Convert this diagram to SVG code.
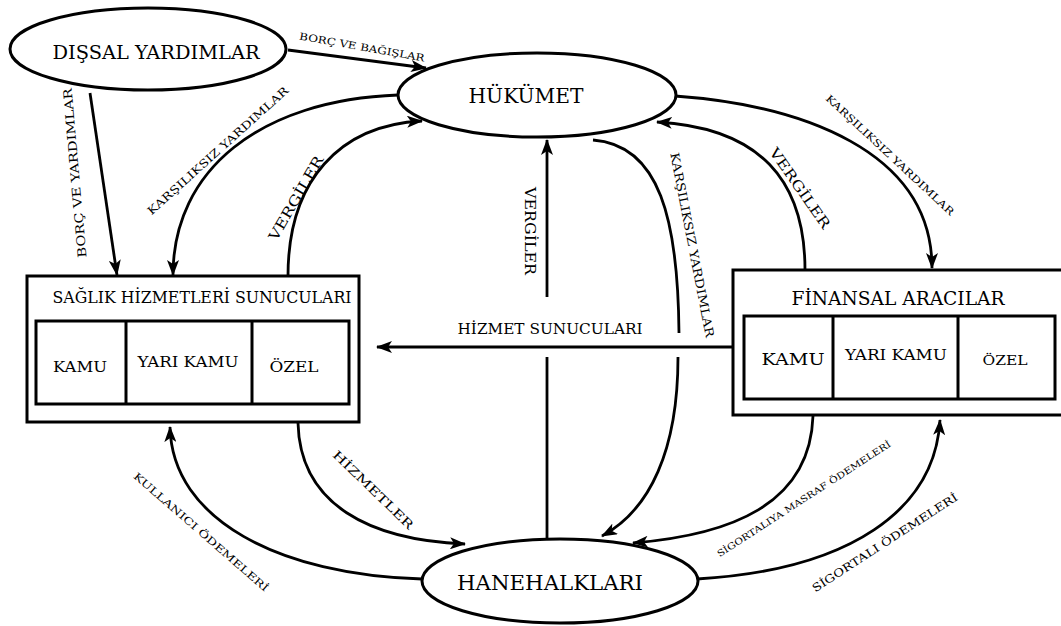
<svg xmlns="http://www.w3.org/2000/svg" width="1061" height="626" viewBox="0 0 1061 626">
<defs>
<marker id="ah" viewBox="0 0 16 12" refX="15" refY="6" markerWidth="16" markerHeight="12" orient="auto" markerUnits="userSpaceOnUse">
<path d="M0,0 L16,6 L0,12 L4,6 z" fill="#000"/>
</marker>
<style>
text{font-family:"DejaVu Serif","Liberation Serif",Tinos,"Noto Serif",serif;fill:#000}
.node{fill:#fff;stroke:#000;stroke-width:3}
.cell{fill:none;stroke:#000;stroke-width:3}
.c{fill:none;stroke:#000;stroke-width:2.8}
.a{marker-end:url(#ah)}
.lbl{text-anchor:middle;dominant-baseline:central}
.mid{text-anchor:middle}
</style>
</defs>
<rect width="1061" height="626" fill="#fff"/>

<g id="connectors">
<path class="c a" d="M288,50 L426,68"/>
<path class="c a" d="M90,93 L117,275"/>
<path class="c a" d="M398,95 C260,100 173,170 173,275"/>
<path class="c a" d="M288,276 C288,180 340,125 422,121"/>
<path class="c a" d="M547,297 L547,140"/>
<path class="c" d="M547,357 L547,539"/>
<path class="c" d="M593,140 C660,145 678,220 679,333"/>
<path class="c a" d="M678,357 C678,450 650,510 602,536"/>
<path class="c a" d="M805,270 C805,180 760,128 657,122"/>
<path class="c a" d="M675,96 C800,105 932,150 932,268"/>
<path class="c a" d="M733,347 L377,347"/>
<path class="c a" d="M422,579 C280,575 172,520 170,427"/>
<path class="c a" d="M298,423 C300,505 370,540 465,544"/>
<path class="c a" d="M813,416 C810,505 730,535 633,543"/>
<path class="c a" d="M697,579 C850,570 935,510 940,420"/>
</g>

<g id="labels">
<text class="lbl" font-size="10" transform="translate(362,47) rotate(10)" textLength="127" lengthAdjust="spacingAndGlyphs">BORÇ VE BAĞIŞLAR</text>
<text class="lbl" font-size="12" transform="translate(75,173) rotate(-95)" textLength="170" lengthAdjust="spacingAndGlyphs">BORÇ VE YARDIMLAR</text>
<text class="lbl" font-size="11" transform="translate(218,151) rotate(-42)" textLength="185" lengthAdjust="spacingAndGlyphs">KARŞILIKSIZ YARDIMLAR</text>
<text class="lbl" font-size="14" transform="translate(296,198) rotate(-60)" textLength="95" lengthAdjust="spacingAndGlyphs">VERGİLER</text>
<text class="lbl" font-size="15" transform="translate(530,231) rotate(90)" textLength="88" lengthAdjust="spacingAndGlyphs">VERGİLER</text>
<text class="lbl" font-size="12" transform="translate(692,245) rotate(79)" textLength="188" lengthAdjust="spacingAndGlyphs">KARŞILIKSIZ YARDIMLAR</text>
<text class="lbl" font-size="14" transform="translate(800,188) rotate(55)" textLength="95" lengthAdjust="spacingAndGlyphs">VERGİLER</text>
<text class="lbl" font-size="10" transform="translate(890,155) rotate(43)" textLength="171" lengthAdjust="spacingAndGlyphs">KARŞILIKSIZ YARDIMLAR</text>
<text class="mid" font-size="15" x="550" y="334" textLength="185" lengthAdjust="spacingAndGlyphs">HİZMET SUNUCULARI</text>
<text class="lbl" font-size="10" transform="translate(201,532) rotate(41)" textLength="175" lengthAdjust="spacingAndGlyphs">KULLANICI ÖDEMELERİ</text>
<text class="lbl" font-size="12" transform="translate(373,490) rotate(44)" textLength="107" lengthAdjust="spacingAndGlyphs">HİZMETLER</text>
<text class="lbl" font-size="9" transform="translate(804,499) rotate(-33)" textLength="205" lengthAdjust="spacingAndGlyphs">SİGORTALIYA MASRAF ÖDEMELERİ</text>
<text class="lbl" font-size="11" transform="translate(885,543) rotate(-33)" textLength="171" lengthAdjust="spacingAndGlyphs">SİGORTALI ÖDEMELERİ</text>
</g>

<g id="dissal">
<ellipse class="node" cx="148" cy="49" rx="138" ry="41"/>
<text class="mid" font-size="19" x="156" y="59" textLength="207" lengthAdjust="spacingAndGlyphs">DIŞSAL YARDIMLAR</text>
</g>

<g id="hukumet">
<ellipse class="node" cx="537" cy="95" rx="139" ry="42"/>
<text class="mid" font-size="20" x="526" y="103" textLength="115" lengthAdjust="spacingAndGlyphs">HÜKÜMET</text>
</g>

<g id="hanehalklari">
<ellipse class="node" cx="560" cy="581" rx="138" ry="42"/>
<text class="mid" font-size="20" x="550" y="590" textLength="186" lengthAdjust="spacingAndGlyphs">HANEHALKLARI</text>
</g>

<g id="saglik">
<rect class="node" x="27" y="276" width="332" height="146"/>
<rect class="cell" x="36" y="321" width="313" height="83"/>
<line class="cell" x1="126" y1="321" x2="126" y2="404"/>
<line class="cell" x1="252" y1="321" x2="252" y2="404"/>
<text class="mid" font-size="16" x="202" y="303" textLength="299" lengthAdjust="spacingAndGlyphs">SAĞLIK HİZMETLERİ SUNUCULARI</text>
<text class="mid" font-size="15" x="80" y="372" textLength="54" lengthAdjust="spacingAndGlyphs">KAMU</text>
<text class="mid" font-size="15" x="188" y="367" textLength="101" lengthAdjust="spacingAndGlyphs">YARI KAMU</text>
<text class="mid" font-size="15" x="294" y="372" textLength="49" lengthAdjust="spacingAndGlyphs">ÖZEL</text>
</g>

<g id="finansal">
<rect class="node" x="733" y="270" width="340" height="145"/>
<rect class="cell" x="744" y="316" width="311" height="83"/>
<line class="cell" x1="833" y1="316" x2="833" y2="399"/>
<line class="cell" x1="958" y1="316" x2="958" y2="399"/>
<text class="mid" font-size="18" x="898" y="305" textLength="213" lengthAdjust="spacingAndGlyphs">FİNANSAL ARACILAR</text>
<text class="mid" font-size="17" x="793" y="365" textLength="63" lengthAdjust="spacingAndGlyphs">KAMU</text>
<text class="mid" font-size="14" x="896" y="360" textLength="102" lengthAdjust="spacingAndGlyphs">YARI KAMU</text>
<text class="mid" font-size="13" x="1005" y="365" textLength="45" lengthAdjust="spacingAndGlyphs">ÖZEL</text>
</g>
</svg>
